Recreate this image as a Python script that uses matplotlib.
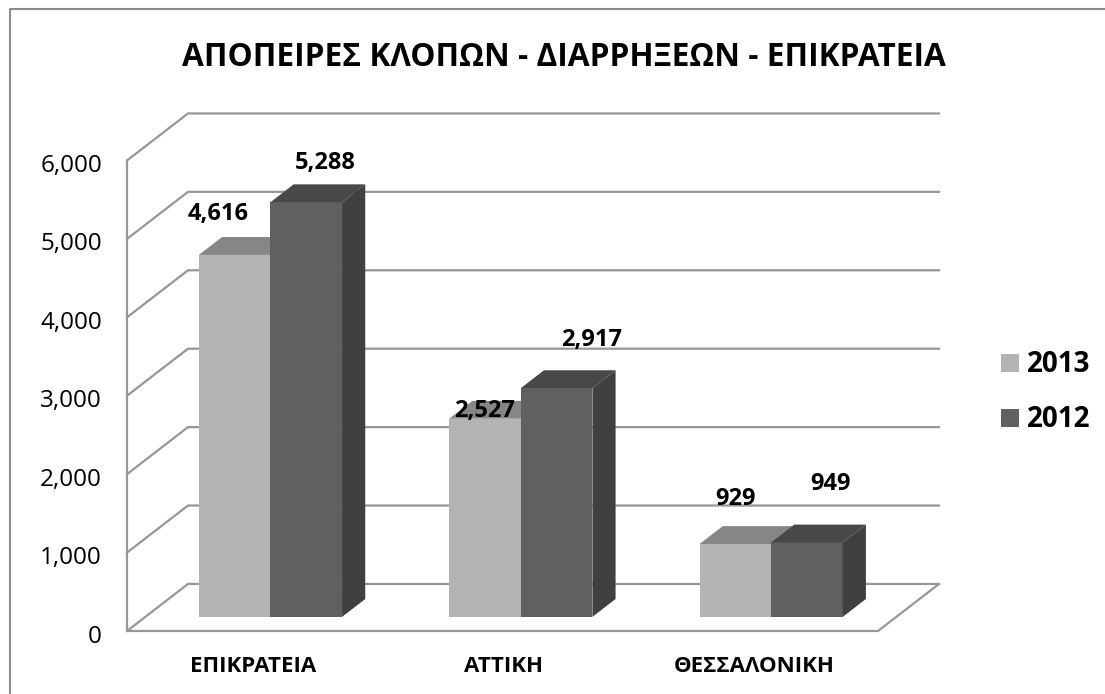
import matplotlib
matplotlib.use("Agg")
import matplotlib.pyplot as plt
from matplotlib.patches import Polygon, Rectangle

plt.rcParams['font.family'] = ['Open Sans', 'Lato', 'DejaVu Sans']

categories = ['ΕΠΙΚΡΑΤΕΙΑ', 'ΑΤΤΙΚΗ', 'ΘΕΣΣΑΛΟΝΙΚΗ']
values_2013 = [4616, 2527, 929]
values_2012 = [5288, 2917, 949]
value_labels_2013 = ['4,616', '2,527', '929']
value_labels_2012 = ['5,288', '2,917', '949']
y_ticks = [0, 1000, 2000, 3000, 4000, 5000, 6000]
y_tick_labels = ['0', '1,000', '2,000', '3,000', '4,000', '5,000', '6,000']
title = 'ΑΠΟΠΕΙΡΕΣ ΚΛΟΠΩΝ - ΔΙΑΡΡΗΞΕΩΝ - ΕΠΙΚΡΑΤΕΙΑ'

W, H = 1105, 694
GRID = '#979797'
COL_2013 = ('#b3b3b3', '#868686')
COL_2012 = ('#606060', '#484848', '#404040')

# fake 3d: depth d in 0..1 moves a point right and up
DEPTH_X = 61 / 250.33
DEPTH_Y = 600
D_FRONT, D_BACK = 0.30, 0.68
BAR_W = 0.286

# label shifts from the bar front top, in pixels
shift_2013 = [(-17, 41), (-1, 8), (0, 45.5)]
shift_2012 = [(18.5, 39), (34.5, 48), (23.5, 58.5)]


def proj(x, v, d):
    return x + d * DEPTH_X, v + d * DEPTH_Y


def draw_bar(ax, x, v, cols):
    fl, fr = x, x + BAR_W
    ax.add_patch(Polygon([proj(fl, 0, D_FRONT), proj(fr, 0, D_FRONT), proj(fr, v, D_FRONT), proj(fl, v, D_FRONT)],
                         fc=cols[0], ec='none', zorder=3))
    ax.add_patch(Polygon([proj(fl, v, D_FRONT), proj(fr, v, D_FRONT), proj(fr, v, D_BACK), proj(fl, v, D_BACK)],
                         fc=cols[1], ec='none', zorder=3))
    if len(cols) > 2:
        ax.add_patch(Polygon([proj(fr, 0, D_FRONT), proj(fr, 0, D_BACK), proj(fr, v, D_BACK), proj(fr, v, D_FRONT)],
                             fc=cols[2], ec='none', zorder=3))


fig = plt.figure(figsize=(W / 100, H / 100), dpi=100)
ax = fig.add_axes([127 / W, 1 - 631 / H, 751 / W, 470.5 / H])
ax.set_xlim(0, 3)
ax.set_ylim(0, 6000)
ax.axis('off')

# walls and floor
for v in y_ticks:
    xs, ys = zip(proj(0, v, 0), proj(0, v, 1), proj(3, v, 1))
    ax.plot(xs, ys, color=GRID, lw=1.6, clip_on=False, zorder=1, solid_joinstyle='miter')
xs, ys = zip(proj(0, 6000, 0), proj(0, 0, 0), proj(3, 0, 0), proj(3, 0, 1))
ax.plot(xs, ys, color=GRID, lw=1.6, clip_on=False, zorder=1, solid_joinstyle='miter')

for i in range(len(categories)):
    left = i + 0.5 - BAR_W
    draw_bar(ax, left, values_2013[i], COL_2013)
    draw_bar(ax, left + BAR_W, values_2012[i], COL_2012)

    ax.annotate(value_labels_2013[i], proj(left + BAR_W / 2, values_2013[i], D_FRONT),
                xytext=(shift_2013[i][0] * 0.72, shift_2013[i][1] * 0.72), textcoords='offset points',
                ha='center', va='center', fontsize=17, fontweight='bold', color='black', zorder=5)
    ax.annotate(value_labels_2012[i], proj(left + BAR_W * 1.5, values_2012[i], D_FRONT),
                xytext=(shift_2012[i][0] * 0.72, shift_2012[i][1] * 0.72), textcoords='offset points',
                ha='center', va='center', fontsize=17, fontweight='bold', color='black', zorder=5)

    ax.annotate(categories[i], (i + 0.5, 0), xytext=(0.7, -36 * 0.72), textcoords='offset points',
                ha='center', va='center', fontsize=16, fontweight='bold', color='black')

for v, lab in zip(y_ticks, y_tick_labels):
    ax.annotate(lab, (0, v), xytext=(-25 * 0.72, -4), textcoords='offset points',
                ha='right', va='center', fontsize=17.5, color='black')

# legend and title in pixel positions of the figure
fig.add_artist(Rectangle((1001 / W, 1 - 372 / H), 18 / W, 18 / H, transform=fig.transFigure, fc=COL_2013[0], ec='none'))
fig.add_artist(Rectangle((1001 / W, 1 - 427 / H), 18 / W, 18 / H, transform=fig.transFigure, fc=COL_2012[0], ec='none'))
fig.text(1027 / W, 1 - 364 / H, '2013', fontsize=20, fontweight='bold', va='center')
fig.text(1027 / W, 1 - 419 / H, '2012', fontsize=20, fontweight='bold', va='center')
fig.text(564 / W, 1 - 57.5 / H, title, fontsize=22.8, fontweight='bold', ha='center', va='center')

# chart frame
fig.add_artist(plt.Line2D([9.5 / W, 9.5 / W, 1], [0, 1 - 8.5 / H, 1 - 8.5 / H], color='#8c8c8c', lw=1.5))

fig.savefig('out.png', dpi=100)
